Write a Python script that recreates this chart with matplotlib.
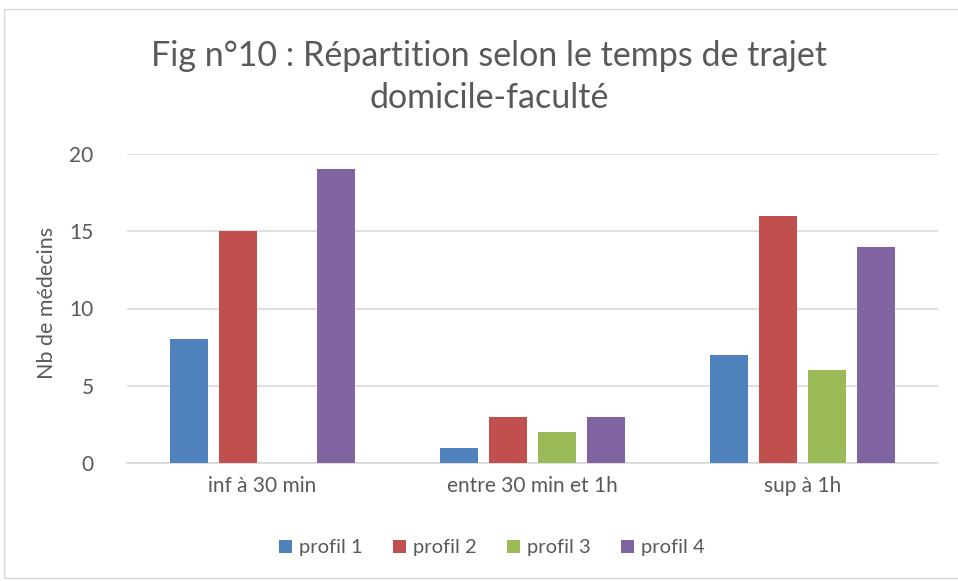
import matplotlib
matplotlib.use("Agg")
import matplotlib.pyplot as plt
from matplotlib.patches import Rectangle
import numpy as np

plt.rcParams['font.family'] = ['Lato', 'DejaVu Sans']

categories = ["inf à 30 min", "entre 30 min et 1h", "sup à 1h"]
series_names = ["profil 1", "profil 2", "profil 3", "profil 4"]
profil1 = [8, 1, 7]
profil2 = [15, 3, 16]
profil3 = [0, 2, 6]
profil4 = [19, 3, 14]
values = [profil1, profil2, profil3, profil4]
colors = ["#4F81BD", "#C0504D", "#9BBB59", "#8064A2"]
yticks = [0, 5, 10, 15, 20]

W, H = 958, 581
fig = plt.figure(figsize=(W / 100, H / 100), dpi=100)
fig.patch.set_facecolor("white")

# outer chart border
fig.patches.append(Rectangle((4 / W, 3 / H), 1.2, (H - 12) / H, transform=fig.transFigure,
                             fill=False, edgecolor="#D9D9D9", linewidth=1))

ax = fig.add_axes([127 / W, (H - 463) / H, (938 - 127) / W, (463 - 154) / H])
text_color = "#595959"

x = np.arange(len(categories))
bw = 0.1406
step = 0.181
for i, (vals, c, name) in enumerate(zip(values, colors, series_names)):
    offs = (i - 1.5) * step
    ax.bar(x + offs, vals, width=bw, color=c, label=name, zorder=3)

ax.set_xlim(-0.5, 2.5)
ax.set_ylim(0, 20)
ax.set_yticks(yticks)
ax.set_xticks(x)
ax.set_xticklabels(categories)
ax.tick_params(axis="both", length=0, colors=text_color, labelsize=15)
ax.tick_params(axis="y", pad=24)
ax.tick_params(axis="x", pad=9)
ax.grid(axis="y", color="#D9D9D9", linewidth=1.2, zorder=0)
for s in ["top", "right", "left"]:
    ax.spines[s].set_visible(False)
ax.spines["bottom"].set_color("#D9D9D9")
ax.spines["bottom"].set_linewidth(1.2)

ax.set_ylabel("Nb de médecins", fontsize=15.5, color=text_color)
ax.yaxis.set_label_coords((57 - 127) / (938 - 127), (463 - 303) / (463 - 154))

fig.text(489 / W, (H - 77) / H,
         "Fig n°10 : Répartition selon le temps de trajet\ndomicile-faculté",
         ha="center", va="center", fontsize=24.5, color=text_color, linespacing=1.4)

leg = fig.legend(loc="center", bbox_to_anchor=(492 / W, (H - 548) / H), ncol=4,
                 frameon=False, fontsize=14.5, handlelength=0.65, handleheight=0.65,
                 handletextpad=0.35, columnspacing=1.5)
for t in leg.get_texts():
    t.set_color(text_color)

fig.savefig("out.png", dpi=100, facecolor="white")
